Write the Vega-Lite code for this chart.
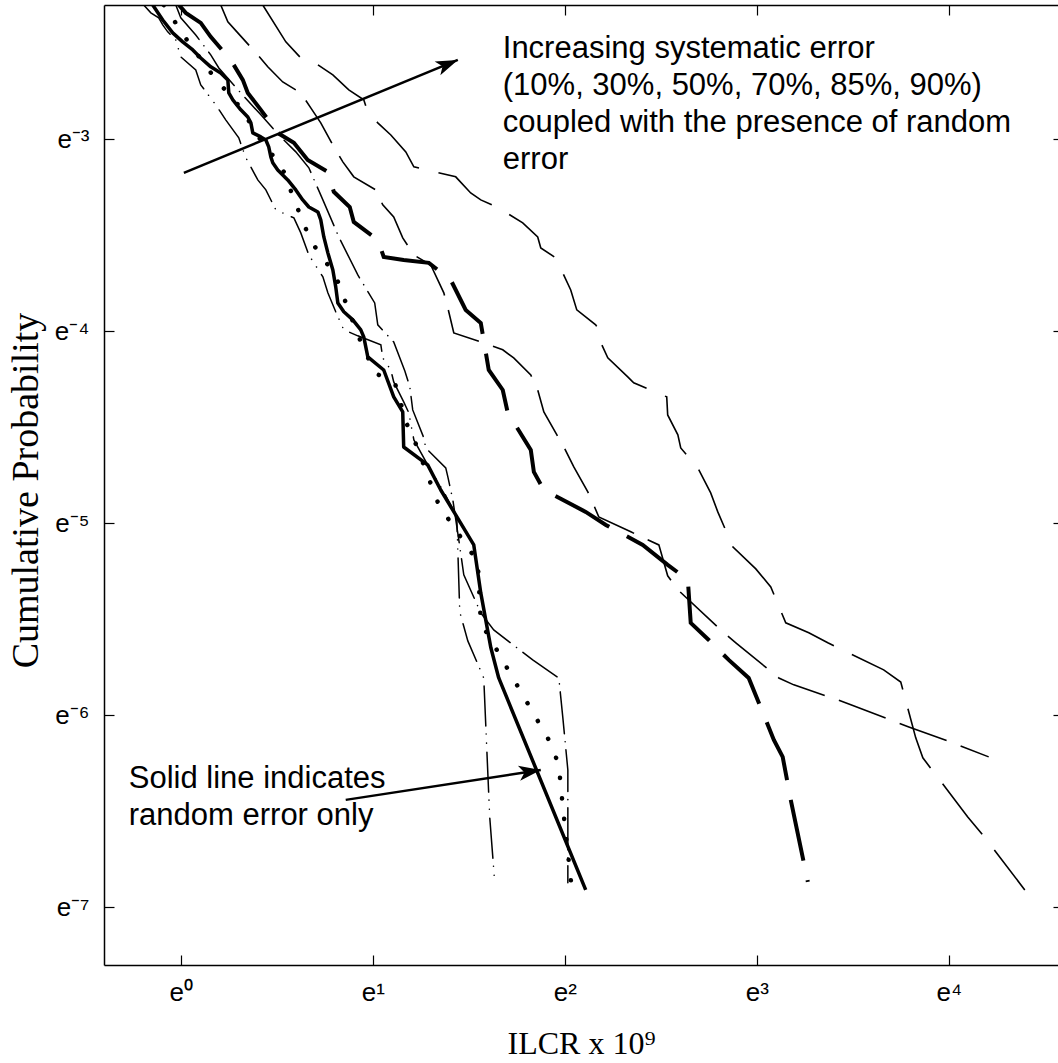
{
  "$schema": "https://vega.github.io/schema/vega-lite/v6.json",
  "width": 954,
  "height": 960,
  "autosize": {"type": "none"},
  "padding": {"left": 104, "top": 5, "right": 0, "bottom": 98},
  "background": "white",
  "config": {"view": {"stroke": null}, "axis": {"grid": false}},
  "datasets": {
    "curves": [
      {"curve": "solid", "ln_ilcr": -0.146, "ln_p": -2.3},
      {"curve": "solid", "ln_ilcr": -0.094, "ln_p": -2.378},
      {"curve": "solid", "ln_ilcr": -0.042, "ln_p": -2.445},
      {"curve": "solid", "ln_ilcr": 0.01, "ln_p": -2.492},
      {"curve": "solid", "ln_ilcr": 0.0625, "ln_p": -2.534},
      {"curve": "solid", "ln_ilcr": 0.104, "ln_p": -2.576},
      {"curve": "solid", "ln_ilcr": 0.156, "ln_p": -2.622},
      {"curve": "solid", "ln_ilcr": 0.208, "ln_p": -2.654},
      {"curve": "solid", "ln_ilcr": 0.245, "ln_p": -2.69},
      {"curve": "solid", "ln_ilcr": 0.25, "ln_p": -2.758},
      {"curve": "solid", "ln_ilcr": 0.271, "ln_p": -2.794},
      {"curve": "solid", "ln_ilcr": 0.3125, "ln_p": -2.846},
      {"curve": "solid", "ln_ilcr": 0.349, "ln_p": -2.883},
      {"curve": "solid", "ln_ilcr": 0.365, "ln_p": -2.914},
      {"curve": "solid", "ln_ilcr": 0.375, "ln_p": -2.966},
      {"curve": "solid", "ln_ilcr": 0.417, "ln_p": -2.987},
      {"curve": "solid", "ln_ilcr": 0.443, "ln_p": -3.003},
      {"curve": "solid", "ln_ilcr": 0.458, "ln_p": -3.039},
      {"curve": "solid", "ln_ilcr": 0.469, "ln_p": -3.091},
      {"curve": "solid", "ln_ilcr": 0.479, "ln_p": -3.122},
      {"curve": "solid", "ln_ilcr": 0.505, "ln_p": -3.159},
      {"curve": "solid", "ln_ilcr": 0.557, "ln_p": -3.211},
      {"curve": "solid", "ln_ilcr": 0.599, "ln_p": -3.263},
      {"curve": "solid", "ln_ilcr": 0.635, "ln_p": -3.315},
      {"curve": "solid", "ln_ilcr": 0.667, "ln_p": -3.352},
      {"curve": "solid", "ln_ilcr": 0.714, "ln_p": -3.378},
      {"curve": "solid", "ln_ilcr": 0.729, "ln_p": -3.419},
      {"curve": "solid", "ln_ilcr": 0.745, "ln_p": -3.508},
      {"curve": "solid", "ln_ilcr": 0.766, "ln_p": -3.591},
      {"curve": "solid", "ln_ilcr": 0.792, "ln_p": -3.68},
      {"curve": "solid", "ln_ilcr": 0.807, "ln_p": -3.768},
      {"curve": "solid", "ln_ilcr": 0.818, "ln_p": -3.852},
      {"curve": "solid", "ln_ilcr": 0.849, "ln_p": -3.898},
      {"curve": "solid", "ln_ilcr": 0.896, "ln_p": -3.94},
      {"curve": "solid", "ln_ilcr": 0.9375, "ln_p": -3.992},
      {"curve": "solid", "ln_ilcr": 0.953, "ln_p": -4.029},
      {"curve": "solid", "ln_ilcr": 0.974, "ln_p": -4.133},
      {"curve": "solid", "ln_ilcr": 1.057, "ln_p": -4.201},
      {"curve": "solid", "ln_ilcr": 1.109, "ln_p": -4.341},
      {"curve": "solid", "ln_ilcr": 1.156, "ln_p": -4.419},
      {"curve": "solid", "ln_ilcr": 1.161, "ln_p": -4.602},
      {"curve": "solid", "ln_ilcr": 1.286, "ln_p": -4.695},
      {"curve": "solid", "ln_ilcr": 1.354, "ln_p": -4.826},
      {"curve": "solid", "ln_ilcr": 1.432, "ln_p": -4.956},
      {"curve": "solid", "ln_ilcr": 1.526, "ln_p": -5.112},
      {"curve": "solid", "ln_ilcr": 1.5625, "ln_p": -5.362},
      {"curve": "solid", "ln_ilcr": 1.615, "ln_p": -5.648},
      {"curve": "solid", "ln_ilcr": 1.656, "ln_p": -5.805},
      {"curve": "solid", "ln_ilcr": 2.109, "ln_p": -6.909},

      {"curve": "dotted", "ln_ilcr": -0.089, "ln_p": -2.3},
      {"curve": "dotted", "ln_ilcr": 0.042, "ln_p": -2.497},
      {"curve": "dotted", "ln_ilcr": 0.172, "ln_p": -2.674},
      {"curve": "dotted", "ln_ilcr": 0.3125, "ln_p": -2.836},
      {"curve": "dotted", "ln_ilcr": 0.438, "ln_p": -3.039},
      {"curve": "dotted", "ln_ilcr": 0.521, "ln_p": -3.128},
      {"curve": "dotted", "ln_ilcr": 0.599, "ln_p": -3.336},
      {"curve": "dotted", "ln_ilcr": 0.677, "ln_p": -3.529},
      {"curve": "dotted", "ln_ilcr": 0.807, "ln_p": -3.711},
      {"curve": "dotted", "ln_ilcr": 0.885, "ln_p": -3.919},
      {"curve": "dotted", "ln_ilcr": 0.927, "ln_p": -4.029},
      {"curve": "dotted", "ln_ilcr": 1.01, "ln_p": -4.216},
      {"curve": "dotted", "ln_ilcr": 1.115, "ln_p": -4.268},
      {"curve": "dotted", "ln_ilcr": 1.177, "ln_p": -4.482},
      {"curve": "dotted", "ln_ilcr": 1.224, "ln_p": -4.586},
      {"curve": "dotted", "ln_ilcr": 1.344, "ln_p": -4.904},
      {"curve": "dotted", "ln_ilcr": 1.411, "ln_p": -5.003},
      {"curve": "dotted", "ln_ilcr": 1.547, "ln_p": -5.201},
      {"curve": "dotted", "ln_ilcr": 1.5625, "ln_p": -5.518},
      {"curve": "dotted", "ln_ilcr": 1.625, "ln_p": -5.622},
      {"curve": "dotted", "ln_ilcr": 1.6875, "ln_p": -5.732},
      {"curve": "dotted", "ln_ilcr": 1.932, "ln_p": -6.154},
      {"curve": "dotted", "ln_ilcr": 1.969, "ln_p": -6.263},
      {"curve": "dotted", "ln_ilcr": 1.99, "ln_p": -6.477},
      {"curve": "dotted", "ln_ilcr": 2.036, "ln_p": -6.898},

      {"curve": "dash-dot-dot", "ln_ilcr": -0.193, "ln_p": -2.3},
      {"curve": "dash-dot-dot", "ln_ilcr": -0.156, "ln_p": -2.341},
      {"curve": "dash-dot-dot", "ln_ilcr": -0.115, "ln_p": -2.367},
      {"curve": "dash-dot-dot", "ln_ilcr": -0.094, "ln_p": -2.404},
      {"curve": "dash-dot-dot", "ln_ilcr": -0.068, "ln_p": -2.44},
      {"curve": "dash-dot-dot", "ln_ilcr": -0.026, "ln_p": -2.482},
      {"curve": "dash-dot-dot", "ln_ilcr": 0.0, "ln_p": -2.57},
      {"curve": "dash-dot-dot", "ln_ilcr": 0.078, "ln_p": -2.638},
      {"curve": "dash-dot-dot", "ln_ilcr": 0.104, "ln_p": -2.716},
      {"curve": "dash-dot-dot", "ln_ilcr": 0.182, "ln_p": -2.82},
      {"curve": "dash-dot-dot", "ln_ilcr": 0.234, "ln_p": -2.898},
      {"curve": "dash-dot-dot", "ln_ilcr": 0.302, "ln_p": -2.992},
      {"curve": "dash-dot-dot", "ln_ilcr": 0.339, "ln_p": -3.096},
      {"curve": "dash-dot-dot", "ln_ilcr": 0.401, "ln_p": -3.211},
      {"curve": "dash-dot-dot", "ln_ilcr": 0.443, "ln_p": -3.263},
      {"curve": "dash-dot-dot", "ln_ilcr": 0.495, "ln_p": -3.367},
      {"curve": "dash-dot-dot", "ln_ilcr": 0.589, "ln_p": -3.409},
      {"curve": "dash-dot-dot", "ln_ilcr": 0.625, "ln_p": -3.487},
      {"curve": "dash-dot-dot", "ln_ilcr": 0.667, "ln_p": -3.602},
      {"curve": "dash-dot-dot", "ln_ilcr": 0.74, "ln_p": -3.716},
      {"curve": "dash-dot-dot", "ln_ilcr": 0.766, "ln_p": -3.799},
      {"curve": "dash-dot-dot", "ln_ilcr": 0.807, "ln_p": -3.898},
      {"curve": "dash-dot-dot", "ln_ilcr": 0.849, "ln_p": -3.992},
      {"curve": "dash-dot-dot", "ln_ilcr": 0.922, "ln_p": -4.023},
      {"curve": "dash-dot-dot", "ln_ilcr": 1.042, "ln_p": -4.07},
      {"curve": "dash-dot-dot", "ln_ilcr": 1.052, "ln_p": -4.138},
      {"curve": "dash-dot-dot", "ln_ilcr": 1.094, "ln_p": -4.201},
      {"curve": "dash-dot-dot", "ln_ilcr": 1.109, "ln_p": -4.263},
      {"curve": "dash-dot-dot", "ln_ilcr": 1.161, "ln_p": -4.367},
      {"curve": "dash-dot-dot", "ln_ilcr": 1.1875, "ln_p": -4.424},
      {"curve": "dash-dot-dot", "ln_ilcr": 1.214, "ln_p": -4.565},
      {"curve": "dash-dot-dot", "ln_ilcr": 1.286, "ln_p": -4.695},
      {"curve": "dash-dot-dot", "ln_ilcr": 1.37, "ln_p": -4.836},
      {"curve": "dash-dot-dot", "ln_ilcr": 1.4375, "ln_p": -4.966},
      {"curve": "dash-dot-dot", "ln_ilcr": 1.453, "ln_p": -5.461},
      {"curve": "dash-dot-dot", "ln_ilcr": 1.495, "ln_p": -5.612},
      {"curve": "dash-dot-dot", "ln_ilcr": 1.578, "ln_p": -5.805},
      {"curve": "dash-dot-dot", "ln_ilcr": 1.594, "ln_p": -6.18},
      {"curve": "dash-dot-dot", "ln_ilcr": 1.609, "ln_p": -6.529},
      {"curve": "dash-dot-dot", "ln_ilcr": 1.635, "ln_p": -6.867},

      {"curve": "dash-dot", "ln_ilcr": -0.026, "ln_p": -2.3},
      {"curve": "dash-dot", "ln_ilcr": 0.0, "ln_p": -2.367},
      {"curve": "dash-dot", "ln_ilcr": 0.078, "ln_p": -2.456},
      {"curve": "dash-dot", "ln_ilcr": 0.156, "ln_p": -2.56},
      {"curve": "dash-dot", "ln_ilcr": 0.198, "ln_p": -2.628},
      {"curve": "dash-dot", "ln_ilcr": 0.3125, "ln_p": -2.758},
      {"curve": "dash-dot", "ln_ilcr": 0.417, "ln_p": -2.872},
      {"curve": "dash-dot", "ln_ilcr": 0.51, "ln_p": -2.977},
      {"curve": "dash-dot", "ln_ilcr": 0.599, "ln_p": -3.065},
      {"curve": "dash-dot", "ln_ilcr": 0.667, "ln_p": -3.148},
      {"curve": "dash-dot", "ln_ilcr": 0.74, "ln_p": -3.315},
      {"curve": "dash-dot", "ln_ilcr": 0.823, "ln_p": -3.508},
      {"curve": "dash-dot", "ln_ilcr": 0.922, "ln_p": -3.706},
      {"curve": "dash-dot", "ln_ilcr": 1.01, "ln_p": -3.852},
      {"curve": "dash-dot", "ln_ilcr": 1.026, "ln_p": -3.966},
      {"curve": "dash-dot", "ln_ilcr": 1.109, "ln_p": -4.055},
      {"curve": "dash-dot", "ln_ilcr": 1.167, "ln_p": -4.206},
      {"curve": "dash-dot", "ln_ilcr": 1.193, "ln_p": -4.289},
      {"curve": "dash-dot", "ln_ilcr": 1.208, "ln_p": -4.409},
      {"curve": "dash-dot", "ln_ilcr": 1.266, "ln_p": -4.555},
      {"curve": "dash-dot", "ln_ilcr": 1.276, "ln_p": -4.607},
      {"curve": "dash-dot", "ln_ilcr": 1.38, "ln_p": -4.711},
      {"curve": "dash-dot", "ln_ilcr": 1.391, "ln_p": -4.758},
      {"curve": "dash-dot", "ln_ilcr": 1.417, "ln_p": -4.878},
      {"curve": "dash-dot", "ln_ilcr": 1.448, "ln_p": -5.086},
      {"curve": "dash-dot", "ln_ilcr": 1.474, "ln_p": -5.268},
      {"curve": "dash-dot", "ln_ilcr": 1.5625, "ln_p": -5.466},
      {"curve": "dash-dot", "ln_ilcr": 1.63, "ln_p": -5.555},
      {"curve": "dash-dot", "ln_ilcr": 1.833, "ln_p": -5.711},
      {"curve": "dash-dot", "ln_ilcr": 1.969, "ln_p": -5.805},
      {"curve": "dash-dot", "ln_ilcr": 1.99, "ln_p": -6.013},
      {"curve": "dash-dot", "ln_ilcr": 2.016, "ln_p": -6.284},
      {"curve": "dash-dot", "ln_ilcr": 2.016, "ln_p": -6.872},

      {"curve": "thick-dash", "ln_ilcr": -0.01, "ln_p": -2.3},
      {"curve": "thick-dash", "ln_ilcr": 0.026, "ln_p": -2.341},
      {"curve": "thick-dash", "ln_ilcr": 0.104, "ln_p": -2.393},
      {"curve": "thick-dash", "ln_ilcr": 0.156, "ln_p": -2.466},
      {"curve": "thick-dash", "ln_ilcr": 0.26, "ln_p": -2.586},
      {"curve": "thick-dash", "ln_ilcr": 0.323, "ln_p": -2.69},
      {"curve": "thick-dash", "ln_ilcr": 0.349, "ln_p": -2.758},
      {"curve": "thick-dash", "ln_ilcr": 0.417, "ln_p": -2.846},
      {"curve": "thick-dash", "ln_ilcr": 0.505, "ln_p": -2.966},
      {"curve": "thick-dash", "ln_ilcr": 0.589, "ln_p": -3.018},
      {"curve": "thick-dash", "ln_ilcr": 0.661, "ln_p": -3.107},
      {"curve": "thick-dash", "ln_ilcr": 0.766, "ln_p": -3.169},
      {"curve": "thick-dash", "ln_ilcr": 0.797, "ln_p": -3.273},
      {"curve": "thick-dash", "ln_ilcr": 0.88, "ln_p": -3.352},
      {"curve": "thick-dash", "ln_ilcr": 0.901, "ln_p": -3.43},
      {"curve": "thick-dash", "ln_ilcr": 1.026, "ln_p": -3.523},
      {"curve": "thick-dash", "ln_ilcr": 1.057, "ln_p": -3.612},
      {"curve": "thick-dash", "ln_ilcr": 1.161, "ln_p": -3.628},
      {"curve": "thick-dash", "ln_ilcr": 1.292, "ln_p": -3.643},
      {"curve": "thick-dash", "ln_ilcr": 1.406, "ln_p": -3.732},
      {"curve": "thick-dash", "ln_ilcr": 1.484, "ln_p": -3.888},
      {"curve": "thick-dash", "ln_ilcr": 1.5625, "ln_p": -3.956},
      {"curve": "thick-dash", "ln_ilcr": 1.604, "ln_p": -4.201},
      {"curve": "thick-dash", "ln_ilcr": 1.677, "ln_p": -4.305},
      {"curve": "thick-dash", "ln_ilcr": 1.703, "ln_p": -4.424},
      {"curve": "thick-dash", "ln_ilcr": 1.823, "ln_p": -4.617},
      {"curve": "thick-dash", "ln_ilcr": 1.839, "ln_p": -4.732},
      {"curve": "thick-dash", "ln_ilcr": 1.891, "ln_p": -4.826},
      {"curve": "thick-dash", "ln_ilcr": 2.109, "ln_p": -4.94},
      {"curve": "thick-dash", "ln_ilcr": 2.214, "ln_p": -5.008},
      {"curve": "thick-dash", "ln_ilcr": 2.406, "ln_p": -5.112},
      {"curve": "thick-dash", "ln_ilcr": 2.536, "ln_p": -5.216},
      {"curve": "thick-dash", "ln_ilcr": 2.641, "ln_p": -5.294},
      {"curve": "thick-dash", "ln_ilcr": 2.656, "ln_p": -5.518},
      {"curve": "thick-dash", "ln_ilcr": 2.75, "ln_p": -5.607},
      {"curve": "thick-dash", "ln_ilcr": 2.854, "ln_p": -5.711},
      {"curve": "thick-dash", "ln_ilcr": 2.958, "ln_p": -5.805},
      {"curve": "thick-dash", "ln_ilcr": 3.047, "ln_p": -6.023},
      {"curve": "thick-dash", "ln_ilcr": 3.089, "ln_p": -6.128},
      {"curve": "thick-dash", "ln_ilcr": 3.135, "ln_p": -6.216},
      {"curve": "thick-dash", "ln_ilcr": 3.177, "ln_p": -6.44},
      {"curve": "thick-dash", "ln_ilcr": 3.266, "ln_p": -6.867},

      {"curve": "thin-dash-1", "ln_ilcr": 0.208, "ln_p": -2.3},
      {"curve": "thin-dash-1", "ln_ilcr": 0.245, "ln_p": -2.388},
      {"curve": "thin-dash-1", "ln_ilcr": 0.297, "ln_p": -2.445},
      {"curve": "thin-dash-1", "ln_ilcr": 0.401, "ln_p": -2.56},
      {"curve": "thin-dash-1", "ln_ilcr": 0.453, "ln_p": -2.622},
      {"curve": "thin-dash-1", "ln_ilcr": 0.531, "ln_p": -2.701},
      {"curve": "thin-dash-1", "ln_ilcr": 0.625, "ln_p": -2.758},
      {"curve": "thin-dash-1", "ln_ilcr": 0.677, "ln_p": -2.836},
      {"curve": "thin-dash-1", "ln_ilcr": 0.729, "ln_p": -2.914},
      {"curve": "thin-dash-1", "ln_ilcr": 0.797, "ln_p": -3.039},
      {"curve": "thin-dash-1", "ln_ilcr": 0.844, "ln_p": -3.117},
      {"curve": "thin-dash-1", "ln_ilcr": 0.901, "ln_p": -3.195},
      {"curve": "thin-dash-1", "ln_ilcr": 1.016, "ln_p": -3.263},
      {"curve": "thin-dash-1", "ln_ilcr": 1.052, "ln_p": -3.341},
      {"curve": "thin-dash-1", "ln_ilcr": 1.109, "ln_p": -3.404},
      {"curve": "thin-dash-1", "ln_ilcr": 1.156, "ln_p": -3.513},
      {"curve": "thin-dash-1", "ln_ilcr": 1.214, "ln_p": -3.602},
      {"curve": "thin-dash-1", "ln_ilcr": 1.302, "ln_p": -3.654},
      {"curve": "thin-dash-1", "ln_ilcr": 1.37, "ln_p": -3.799},
      {"curve": "thin-dash-1", "ln_ilcr": 1.391, "ln_p": -3.878},
      {"curve": "thin-dash-1", "ln_ilcr": 1.422, "ln_p": -4.008},
      {"curve": "thin-dash-1", "ln_ilcr": 1.5625, "ln_p": -4.055},
      {"curve": "thin-dash-1", "ln_ilcr": 1.677, "ln_p": -4.096},
      {"curve": "thin-dash-1", "ln_ilcr": 1.734, "ln_p": -4.138},
      {"curve": "thin-dash-1", "ln_ilcr": 1.823, "ln_p": -4.227},
      {"curve": "thin-dash-1", "ln_ilcr": 1.859, "ln_p": -4.305},
      {"curve": "thin-dash-1", "ln_ilcr": 1.891, "ln_p": -4.419},
      {"curve": "thin-dash-1", "ln_ilcr": 1.953, "ln_p": -4.529},
      {"curve": "thin-dash-1", "ln_ilcr": 1.995, "ln_p": -4.602},
      {"curve": "thin-dash-1", "ln_ilcr": 2.047, "ln_p": -4.706},
      {"curve": "thin-dash-1", "ln_ilcr": 2.12, "ln_p": -4.836},
      {"curve": "thin-dash-1", "ln_ilcr": 2.146, "ln_p": -4.893},
      {"curve": "thin-dash-1", "ln_ilcr": 2.177, "ln_p": -4.966},
      {"curve": "thin-dash-1", "ln_ilcr": 2.344, "ln_p": -5.044},
      {"curve": "thin-dash-1", "ln_ilcr": 2.422, "ln_p": -5.081},
      {"curve": "thin-dash-1", "ln_ilcr": 2.49, "ln_p": -5.112},
      {"curve": "thin-dash-1", "ln_ilcr": 2.536, "ln_p": -5.273},
      {"curve": "thin-dash-1", "ln_ilcr": 2.589, "ln_p": -5.346},
      {"curve": "thin-dash-1", "ln_ilcr": 2.823, "ln_p": -5.565},
      {"curve": "thin-dash-1", "ln_ilcr": 2.891, "ln_p": -5.622},
      {"curve": "thin-dash-1", "ln_ilcr": 3.115, "ln_p": -5.805},
      {"curve": "thin-dash-1", "ln_ilcr": 3.193, "ln_p": -5.841},
      {"curve": "thin-dash-1", "ln_ilcr": 3.422, "ln_p": -5.919},
      {"curve": "thin-dash-1", "ln_ilcr": 3.49, "ln_p": -5.945},
      {"curve": "thin-dash-1", "ln_ilcr": 3.724, "ln_p": -6.034},
      {"curve": "thin-dash-1", "ln_ilcr": 3.792, "ln_p": -6.06},
      {"curve": "thin-dash-1", "ln_ilcr": 4.021, "ln_p": -6.143},
      {"curve": "thin-dash-1", "ln_ilcr": 4.208, "ln_p": -6.216},

      {"curve": "thin-dash-2", "ln_ilcr": 0.427, "ln_p": -2.3},
      {"curve": "thin-dash-2", "ln_ilcr": 0.547, "ln_p": -2.492},
      {"curve": "thin-dash-2", "ln_ilcr": 0.625, "ln_p": -2.576},
      {"curve": "thin-dash-2", "ln_ilcr": 0.714, "ln_p": -2.612},
      {"curve": "thin-dash-2", "ln_ilcr": 0.792, "ln_p": -2.664},
      {"curve": "thin-dash-2", "ln_ilcr": 0.875, "ln_p": -2.742},
      {"curve": "thin-dash-2", "ln_ilcr": 0.953, "ln_p": -2.794},
      {"curve": "thin-dash-2", "ln_ilcr": 0.974, "ln_p": -2.857},
      {"curve": "thin-dash-2", "ln_ilcr": 1.026, "ln_p": -2.914},
      {"curve": "thin-dash-2", "ln_ilcr": 1.094, "ln_p": -2.977},
      {"curve": "thin-dash-2", "ln_ilcr": 1.172, "ln_p": -3.065},
      {"curve": "thin-dash-2", "ln_ilcr": 1.214, "ln_p": -3.143},
      {"curve": "thin-dash-2", "ln_ilcr": 1.432, "ln_p": -3.195},
      {"curve": "thin-dash-2", "ln_ilcr": 1.51, "ln_p": -3.279},
      {"curve": "thin-dash-2", "ln_ilcr": 1.5625, "ln_p": -3.315},
      {"curve": "thin-dash-2", "ln_ilcr": 1.656, "ln_p": -3.357},
      {"curve": "thin-dash-2", "ln_ilcr": 1.781, "ln_p": -3.435},
      {"curve": "thin-dash-2", "ln_ilcr": 1.859, "ln_p": -3.508},
      {"curve": "thin-dash-2", "ln_ilcr": 1.875, "ln_p": -3.565},
      {"curve": "thin-dash-2", "ln_ilcr": 1.953, "ln_p": -3.617},
      {"curve": "thin-dash-2", "ln_ilcr": 2.031, "ln_p": -3.784},
      {"curve": "thin-dash-2", "ln_ilcr": 2.0625, "ln_p": -3.888},
      {"curve": "thin-dash-2", "ln_ilcr": 2.161, "ln_p": -3.966},
      {"curve": "thin-dash-2", "ln_ilcr": 2.1875, "ln_p": -4.008},
      {"curve": "thin-dash-2", "ln_ilcr": 2.193, "ln_p": -4.07},
      {"curve": "thin-dash-2", "ln_ilcr": 2.224, "ln_p": -4.138},
      {"curve": "thin-dash-2", "ln_ilcr": 2.328, "ln_p": -4.237},
      {"curve": "thin-dash-2", "ln_ilcr": 2.359, "ln_p": -4.268},
      {"curve": "thin-dash-2", "ln_ilcr": 2.531, "ln_p": -4.341},
      {"curve": "thin-dash-2", "ln_ilcr": 2.536, "ln_p": -4.435},
      {"curve": "thin-dash-2", "ln_ilcr": 2.589, "ln_p": -4.539},
      {"curve": "thin-dash-2", "ln_ilcr": 2.604, "ln_p": -4.607},
      {"curve": "thin-dash-2", "ln_ilcr": 2.693, "ln_p": -4.711},
      {"curve": "thin-dash-2", "ln_ilcr": 2.76, "ln_p": -4.841},
      {"curve": "thin-dash-2", "ln_ilcr": 2.797, "ln_p": -4.94},
      {"curve": "thin-dash-2", "ln_ilcr": 2.875, "ln_p": -5.122},
      {"curve": "thin-dash-2", "ln_ilcr": 2.995, "ln_p": -5.237},
      {"curve": "thin-dash-2", "ln_ilcr": 3.073, "ln_p": -5.331},
      {"curve": "thin-dash-2", "ln_ilcr": 3.151, "ln_p": -5.518},
      {"curve": "thin-dash-2", "ln_ilcr": 3.271, "ln_p": -5.57},
      {"curve": "thin-dash-2", "ln_ilcr": 3.37, "ln_p": -5.622},
      {"curve": "thin-dash-2", "ln_ilcr": 3.661, "ln_p": -5.763},
      {"curve": "thin-dash-2", "ln_ilcr": 3.75, "ln_p": -5.826},
      {"curve": "thin-dash-2", "ln_ilcr": 3.828, "ln_p": -6.117},
      {"curve": "thin-dash-2", "ln_ilcr": 3.865, "ln_p": -6.221},
      {"curve": "thin-dash-2", "ln_ilcr": 4.099, "ln_p": -6.529},
      {"curve": "thin-dash-2", "ln_ilcr": 4.177, "ln_p": -6.622},
      {"curve": "thin-dash-2", "ln_ilcr": 4.396, "ln_p": -6.909}
    ],
    "notes": [
      {"note": "Increasing systematic error\n(10%, 30%, 50%, 70%, 85%, 90%)\ncoupled with the presence of random\nerror", "ln_ilcr": 1.677, "ln_p": -2.576},
      {"note": "Solid line indicates\nrandom error only", "ln_ilcr": -0.271, "ln_p": -6.378}
    ],
    "arrows": [
      {"arrow": "systematic", "ln_ilcr": 0.016, "ln_p": -3.174, "ln_ilcr_end": 1.443, "ln_p_end": -2.586},
      {"arrow": "random", "ln_ilcr": 0.859, "ln_p": -6.44, "ln_ilcr_end": 1.875, "ln_p_end": -6.284}
    ],
    "arrowheads": [
      {"arrow": "systematic", "ln_ilcr": 1.443, "ln_p": -2.586},
      {"arrow": "random", "ln_ilcr": 1.875, "ln_p": -6.284}
    ]
  },
  "resolve": {"scale": {"x": "independent", "y": "independent"}, "axis": {"x": "independent", "y": "independent"}},
  "layer": [
    {
      "encoding": {
        "x": {
          "field": "ln_ilcr", "type": "quantitative",
          "scale": {"domain": [-0.4, 4.569], "nice": false, "zero": false},
          "axis": {
            "title": "ILCR x 10⁹", "values": [0, 1, 2, 3, 4],
            "labelExpr": "['e⁰','e¹','e²','e³','e⁴'][datum.value]",
            "tickSize": -10, "tickColor": "black", "tickWidth": 1.2,
            "domainColor": "black", "domainWidth": 1.5,
            "labelFont": "Liberation Sans", "labelFontSize": 26, "labelColor": "black",
            "labelPadding": 45, "labelBaseline": "alphabetic", "labelFlush": false, "labelOverlap": false,
            "titleFont": "Liberation Serif", "titleFontSize": 32, "titleFontWeight": "normal", "titleColor": "black",
            "titleY": 88, "titleBaseline": "alphabetic"
          }
        },
        "y": {
          "field": "ln_p", "type": "quantitative",
          "scale": {"domain": [-7.3, -2.3], "nice": false, "zero": false},
          "axis": {
            "title": "Cumulative Probability", "values": [-3, -4, -5, -6, -7],
            "labelExpr": "['e⁻³','e⁻⁴','e⁻⁵','e⁻⁶','e⁻⁷'][-3 - datum.value]",
            "tickSize": -10, "tickColor": "black", "tickWidth": 1.2,
            "domainColor": "black", "domainWidth": 1.5,
            "labelFont": "Liberation Sans", "labelFontSize": 26, "labelColor": "black",
            "labelPadding": 25, "labelBaseline": "middle", "labelFlush": false, "labelOverlap": false,
            "titleFont": "Liberation Serif", "titleFontSize": 38, "titleFontWeight": "normal", "titleColor": "black",
            "titleX": -78, "titleY": 485, "titleAngle": 270, "titleBaseline": "middle", "titleAlign": "center"
          }
        }
      },
      "layer": [
        {
          "data": {"name": "curves"},
          "transform": [{"filter": {"field": "curve", "equal": "solid"}}],
          "mark": {"type": "line", "color": "black", "strokeWidth": 3.5, "clip": true, "strokeJoin": "round"},
          "encoding": {"order": {"field": "ln_p", "sort": "descending"}}
        },
        {
          "data": {"name": "curves"},
          "transform": [{"filter": {"field": "curve", "equal": "dotted"}}],
          "mark": {"type": "line", "color": "black", "strokeWidth": 4.5, "strokeCap": "round", "strokeDash": [0.1, 20.5], "clip": true},
          "encoding": {"order": {"field": "ln_p", "sort": "descending"}}
        },
        {
          "data": {"name": "curves"},
          "transform": [{"filter": {"field": "curve", "equal": "dash-dot-dot"}}],
          "mark": {"type": "line", "color": "black", "strokeWidth": 1.5, "strokeCap": "round", "strokeDash": [40, 8, 0.1, 9, 0.1, 9], "clip": true},
          "encoding": {"order": {"field": "ln_p", "sort": "descending"}}
        },
        {
          "data": {"name": "curves"},
          "transform": [{"filter": {"field": "curve", "equal": "dash-dot"}}],
          "mark": {"type": "line", "color": "black", "strokeWidth": 1.5, "strokeCap": "round", "strokeDash": [42, 8, 0.1, 8], "clip": true},
          "encoding": {"order": {"field": "ln_p", "sort": "descending"}}
        },
        {
          "data": {"name": "curves"},
          "transform": [{"filter": {"field": "curve", "equal": "thick-dash"}}],
          "mark": {"type": "line", "color": "black", "strokeWidth": 4, "strokeDash": [62, 20], "clip": true},
          "encoding": {"order": {"field": "ln_p", "sort": "descending"}}
        },
        {
          "data": {"name": "curves"},
          "transform": [{"filter": {"field": "curve", "equal": "thin-dash-1"}}],
          "mark": {"type": "line", "color": "black", "strokeWidth": 1.6, "strokeDash": [50, 15], "clip": true},
          "encoding": {"order": {"field": "ln_p", "sort": "descending"}}
        },
        {
          "data": {"name": "curves"},
          "transform": [{"filter": {"field": "curve", "equal": "thin-dash-2"}}],
          "mark": {"type": "line", "color": "black", "strokeWidth": 1.6, "strokeDash": [64, 20], "clip": true},
          "encoding": {"order": {"field": "ln_p", "sort": "descending"}}
        },
        {
          "data": {"name": "arrows"},
          "mark": {"type": "rule", "color": "black", "strokeWidth": 2.5},
          "encoding": {"x2": {"field": "ln_ilcr_end"}, "y2": {"field": "ln_p_end"}}
        },
        {
          "data": {"name": "arrowheads"},
          "transform": [{"filter": {"field": "arrow", "equal": "systematic"}}],
          "mark": {"type": "point", "shape": "M0,0L-1,-0.34L-0.75,0L-1,0.34Z", "size": 1936, "angle": 337.6, "filled": true, "color": "black", "opacity": 1, "strokeWidth": 0},
          "encoding": {}
        },
        {
          "data": {"name": "arrowheads"},
          "transform": [{"filter": {"field": "arrow", "equal": "random"}}],
          "mark": {"type": "point", "shape": "M0,0L-1,-0.34L-0.75,0L-1,0.34Z", "size": 1936, "angle": 351.3, "filled": true, "color": "black", "opacity": 1, "strokeWidth": 0},
          "encoding": {}
        },
        {
          "data": {"name": "notes"},
          "mark": {"type": "text", "align": "left", "baseline": "alphabetic", "font": "Liberation Sans", "fontSize": 31, "lineBreak": "\n", "lineHeight": 37, "color": "black"},
          "encoding": {"text": {"field": "note"}}
        }
      ]
    },
    {
      "data": {"name": "arrowheads"},
      "mark": {"type": "point", "opacity": 0},
      "encoding": {
        "x": {
          "field": "ln_ilcr", "type": "quantitative",
          "scale": {"domain": [-0.4, 4.569], "nice": false, "zero": false},
          "axis": {"orient": "top", "values": [0, 1, 2, 3, 4], "labels": false, "title": null, "tickSize": -10, "tickColor": "black", "tickWidth": 1.2, "domainColor": "black", "domainWidth": 1.5, "grid": false}
        },
        "y": {
          "field": "ln_p", "type": "quantitative",
          "scale": {"domain": [-7.3, -2.3], "nice": false, "zero": false},
          "axis": {"orient": "right", "values": [-3, -4, -5, -6, -7], "labels": false, "title": null, "tickSize": -5, "tickColor": "black", "tickWidth": 1.2, "domain": false, "grid": false}
        }
      }
    }
  ]
}
